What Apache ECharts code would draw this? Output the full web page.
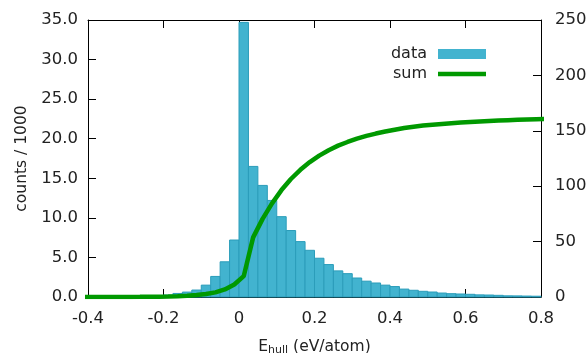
<!DOCTYPE html>
<html>
<head>
<meta charset="utf-8">
<script src="https://cdn.jsdelivr.net/npm/echarts@6/dist/echarts.min.js"></script>
<style>
  html, body { margin: 0; padding: 0; background: #fff; }
  #chart { width: 587px; height: 353px; }
</style>
</head>
<body>
<div id="chart"></div>
<script>
// histogram bins (eV/atom): left edge of the first bin and the bin width
const binStart = -0.4;
const binWidth = 0.025;

// counts / 1000 in each bin, -0.4 .. 0.8
const counts = [
  0.02, 0.02, 0.03, 0.04, 0.05, 0.07, 0.1, 0.15, 0.25, 0.45, 0.62, 0.88, 1.5, 2.6, 4.45, 7.2,
  34.7, 16.5, 14.1, 12.2, 10.15, 8.4, 7.0, 5.9, 4.9, 4.1, 3.3, 2.95, 2.4, 2.0, 1.77, 1.5,
  1.32, 1.0, 0.85, 0.72, 0.63, 0.5, 0.42, 0.38, 0.34, 0.27, 0.25, 0.21, 0.15, 0.14, 0.12, 0.1
];

// running sum (right axis) at the bin centres, one extra point before and after
const sumValues = [
  0, 0, 0.02, 0.04, 0.07, 0.11, 0.16, 0.23, 0.33, 0.48, 0.73, 1.2, 1.8, 2.7, 4.2, 6.8, 11.3,
  18.8, 53.8, 70.5, 84.5, 96.5, 106.5, 114.8, 121.8, 127.6, 132.5, 136.6, 139.9, 142.9, 145.4,
  147.5, 149.4, 151.0, 152.5, 153.7, 154.7, 155.5, 156.2, 156.8, 157.4, 157.9, 158.4, 158.8,
  159.2, 159.6, 159.9, 160.2, 160.4, 160.6
];

const xTickLabels = ['-0.4', '-0.2', '0', '0.2', '0.4', '0.6', '0.8'];
const yTickLabels = ['0.0', '5.0', '10.0', '15.0', '20.0', '25.0', '30.0', '35.0'];
const y2TickLabels = ['0', '50', '100', '150', '200', '250'];

const FONT = 'DejaVu Sans';
const TEXT = '#222';
const SIZE = 16.5;

const barData = counts.map((c, i) => [binStart + i * binWidth, binStart + (i + 1) * binWidth, c]);
const sumData = sumValues.map((v, i) => [binStart - binWidth / 2 + (i - 1) * binWidth + binWidth, v]);

const chart = echarts.init(document.getElementById('chart'));

const tick = { show: true, inside: true, length: 8, lineStyle: { color: '#000', width: 1 } };
const line = { show: true, onZero: false, lineStyle: { color: '#000', width: 1 } };

chart.setOption({
  animation: false,
  grid: { left: 88, right: 46, top: 20, bottom: 56, outerBoundsMode: 'none' },
  legend: {
    orient: 'vertical',
    align: 'right',
    right: 96,
    top: 41,
    itemWidth: 48,
    itemHeight: 10,
    itemGap: 4,
    textStyle: { fontFamily: FONT, fontSize: 16, color: TEXT, padding: [0, 6, 0, 0] },
    data: [
      { name: 'data', icon: 'rect' },
      { name: 'sum', icon: 'path://M0,0H48V4.5H0Z' }
    ]
  },
  xAxis: [
    {
      type: 'value', min: -0.4, max: 0.8, interval: 0.2,
      axisLine: line, axisTick: tick, splitLine: { show: false },
      axisLabel: {
        fontFamily: FONT, fontSize: SIZE, color: TEXT, margin: 13,
        formatter: v => xTickLabels[Math.round((v + 0.4) / 0.2)]
      },
      name: '{n|E}{s|hull}{n| (eV/atom)}',
      nameLocation: 'middle',
      nameGap: 40,
      nameTextStyle: {
        rich: {
          n: { fontFamily: FONT, fontSize: 15.5, color: TEXT },
          s: { fontFamily: FONT, fontSize: 11, color: TEXT, padding: [8, 0, 0, 0] }
        }
      }
    },
    {
      type: 'value', position: 'top', min: -0.4, max: 0.8, interval: 0.2,
      axisLine: line, axisTick: tick, axisLabel: { show: false }, splitLine: { show: false }
    }
  ],
  yAxis: [
    {
      type: 'value', min: 0, max: 35, interval: 5,
      axisLine: line, axisTick: tick, splitLine: { show: false },
      axisLabel: {
        fontFamily: FONT, fontSize: SIZE, color: TEXT, margin: 10,
        formatter: v => yTickLabels[Math.round(v / 5)]
      },
      name: 'counts / 1000',
      nameLocation: 'middle',
      nameGap: 58,
      nameTextStyle: { fontFamily: FONT, fontSize: 15.5, color: TEXT }
    },
    {
      type: 'value', position: 'right', min: 0, max: 250, interval: 50,
      axisLine: line, axisTick: tick, splitLine: { show: false },
      axisLabel: {
        fontFamily: FONT, fontSize: SIZE, color: TEXT, margin: 14,
        formatter: v => y2TickLabels[Math.round(v / 50)]
      }
    }
  ],
  series: [
    {
      name: 'data',
      type: 'custom',
      xAxisIndex: 0,
      yAxisIndex: 0,
      itemStyle: { color: '#42b3cf' },
      encode: { x: [0, 1], y: 2 },
      data: barData,
      renderItem: (params, api) => {
        const top = api.coord([api.value(0), api.value(2)]);
        const bottom = api.coord([api.value(1), 0]);
        return {
          type: 'rect',
          shape: { x: top[0], y: top[1], width: bottom[0] - top[0], height: bottom[1] - top[1] },
          style: { fill: '#42b3cf', stroke: '#2b9dba', lineWidth: 1 }
        };
      }
    },
    {
      name: 'sum',
      type: 'line',
      xAxisIndex: 0,
      yAxisIndex: 1,
      symbol: 'none',
      clip: true,
      z: 3,
      lineStyle: { color: '#009900', width: 4.5 },
      itemStyle: { color: '#009900' },
      data: sumData
    }
  ]
});
</script>
</body>
</html>
